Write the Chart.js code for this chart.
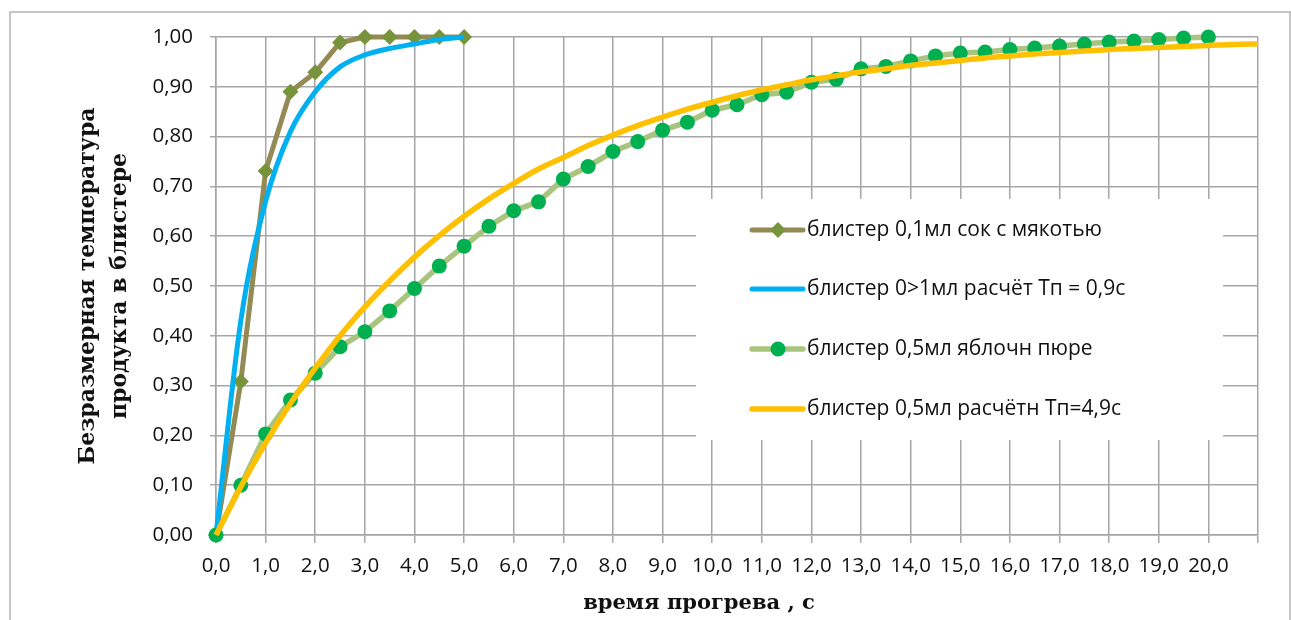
<!DOCTYPE html>
<html><head><meta charset="utf-8">
<script src="https://cdn.jsdelivr.net/npm/chart.js@4.4.0/dist/chart.umd.min.js"></script>
<style>html,body{margin:0;padding:0;background:#fff;}canvas{display:block;}</style>
</head><body>
<canvas id="c" width="1291" height="620"></canvas>
<script>
// ---- data ----
const seriesNames = [
  'блистер 0,1мл сок с мякотью',
  'блистер 0>1мл расчёт Тп = 0,9с',
  'блистер 0,5мл яблочн пюре',
  'блистер 0,5мл расчётн Тп=4,9с'
];
const timeJuice = [0, 0.5, 1, 1.5, 2, 2.5, 3, 3.5, 4, 4.5, 5];
const juiceMeasured = [0, 0.308, 0.731, 0.89, 0.929, 0.989, 1.0, 1.0, 1.0, 1.0, 1.0];
const juiceCalc = [0, 0.43, 0.67, 0.81, 0.89, 0.94, 0.964, 0.977, 0.986, 0.995, 1.0];
const timePuree = [0, 0.5, 1, 1.5, 2, 2.5, 3, 3.5, 4, 4.5, 5, 5.5, 6, 6.5, 7, 7.5, 8, 8.5, 9, 9.5, 10,
  10.5, 11, 11.5, 12, 12.5, 13, 13.5, 14, 14.5, 15, 15.5, 16, 16.5, 17, 17.5, 18, 18.5, 19, 19.5, 20];
const pureeMeasured = [0, 0.10, 0.203, 0.271, 0.325, 0.378, 0.408, 0.45, 0.495, 0.54, 0.58, 0.62, 0.651,
  0.669, 0.715, 0.74, 0.77, 0.79, 0.813, 0.829, 0.853, 0.864, 0.884, 0.889, 0.909, 0.915, 0.936, 0.941,
  0.952, 0.962, 0.968, 0.97, 0.975, 0.978, 0.982, 0.986, 0.99, 0.992, 0.995, 0.998, 1.0];
const timePureeCalc = [0, 0.5, 1, 1.5, 2, 2.5, 3, 3.5, 4, 4.5, 5, 5.5, 6, 6.5, 7, 7.5, 8, 8.5, 9, 9.5, 10,
  10.5, 11, 11.5, 12, 12.5, 13, 13.5, 14, 14.5, 15, 15.5, 16, 16.5, 17, 17.5, 18, 18.5, 19, 19.5, 20, 20.5, 21];
const pureeCalc = [0, 0.097, 0.185, 0.264, 0.335, 0.400, 0.458, 0.510, 0.558, 0.601, 0.640, 0.675, 0.706,
  0.735, 0.758, 0.782, 0.803, 0.822, 0.839, 0.855, 0.869, 0.882, 0.894, 0.904, 0.914, 0.922, 0.930, 0.936,
  0.943, 0.948, 0.953, 0.958, 0.962, 0.966, 0.969, 0.972, 0.975, 0.977, 0.979, 0.981, 0.983, 0.985, 0.986];
const yAxisTitle = ['Безразмерная температура', 'продукта в блистере'];
const xAxisTitle = 'время прогрева , с';

// ---- styles ----
const GRID = '#a6a6a6';
const styles = [
  {line: '#948A54', width: 5, point: 'rectRot', pointColor: '#77933C', radius: 8, order: 3, smooth: false},
  {line: '#00B0F0', width: 5, point: false, pointColor: null, radius: 0, order: 2, smooth: true},
  {line: '#A9C47F', width: 5.5, point: 'circle', pointColor: '#00B050', radius: 7.5, order: 1, smooth: false},
  {line: '#FFC000', width: 5.5, point: false, pointColor: null, radius: 0, order: 0, smooth: true}
];
const xy = (xs, ys) => xs.map((x, i) => ({x: x, y: ys[i]}));
const seriesData = [xy(timeJuice, juiceMeasured), xy(timeJuice, juiceCalc),
                    xy(timePuree, pureeMeasured), xy(timePureeCalc, pureeCalc)];

const comma = (v, d) => v.toFixed(d).replace('.', ',');

const framePlugin = {
  id: 'frame',
  beforeDraw(chart) {
    const ctx = chart.ctx;
    ctx.save();
    ctx.fillStyle = '#fff';
    ctx.fillRect(0, 0, chart.width, chart.height);
    ctx.strokeStyle = '#b4b4b4';
    ctx.lineWidth = 1.5;
    ctx.strokeRect(10, 12, 1280, 640);
    ctx.restore();
  }
};

function drawMarker(ctx, st, x, y) {
  if (!st.point) return;
  ctx.fillStyle = st.pointColor;
  ctx.beginPath();
  if (st.point === 'circle') {
    ctx.arc(x, y, st.radius, 0, Math.PI * 2);
  } else {
    ctx.moveTo(x, y - st.radius); ctx.lineTo(x + st.radius, y);
    ctx.lineTo(x, y + st.radius); ctx.lineTo(x - st.radius, y);
    ctx.closePath();
  }
  ctx.fill();
}

const boxLegendPlugin = {
  id: 'boxLegend',
  beforeDatasetsDraw(chart) {
    const ctx = chart.ctx;
    ctx.save();
    ctx.fillStyle = '#fff';
    ctx.fillRect(696, 199, 527, 241);
    const rows = [230, 289, 349, 409];
    ctx.font = '21px "Open Sans", sans-serif';
    ctx.textBaseline = 'middle';
    ctx.textAlign = 'left';
    seriesNames.forEach((name, i) => {
      const st = styles[i];
      const y = rows[i];
      ctx.strokeStyle = st.line;
      ctx.lineWidth = st.width;
      ctx.lineCap = 'round';
      ctx.beginPath(); ctx.moveTo(752, y); ctx.lineTo(803, y); ctx.stroke();
      drawMarker(ctx, st, 778, y);
      ctx.fillStyle = '#111';
      ctx.fillText(name, 807, y);
    });
    ctx.restore();
  },
  afterDraw(chart) {
    const ctx = chart.ctx;
    ctx.save();
    ctx.font = 'bold 21px "DejaVu Serif", serif';
    ctx.fillStyle = '#111';
    ctx.textAlign = 'center';
    ctx.textBaseline = 'middle';
    ctx.fillText(xAxisTitle, 699, 604);
    ctx.restore();
  }
};

function build() {
  new Chart(document.getElementById('c'), {
    type: 'line',
    data: {
      datasets: seriesData.map((d, i) => ({
        label: seriesNames[i],
        data: d,
        borderColor: styles[i].line,
        borderWidth: styles[i].width,
        backgroundColor: styles[i].pointColor || styles[i].line,
        pointStyle: styles[i].point || 'circle',
        pointRadius: styles[i].radius,
        pointBackgroundColor: styles[i].pointColor || styles[i].line,
        pointBorderWidth: 0,
        pointHoverRadius: styles[i].radius,
        cubicInterpolationMode: styles[i].smooth ? 'monotone' : 'default',
        tension: 0,
        fill: false,
        clip: false,
        order: styles[i].order
      }))
    },
    options: {
      responsive: false,
      animation: false,
      devicePixelRatio: 1,
      layout: {padding: {left: 0, right: 33, top: 37, bottom: 0}},
      plugins: {legend: {display: false}, tooltip: {enabled: false}},
      scales: {
        x: {
          type: 'linear', min: 0, max: 21,
          afterFit(s) { s.height = 85; },
          grid: {color: GRID, lineWidth: 1.5, tickLength: 8, drawTicks: true},
          border: {color: GRID, width: 1.5},
          ticks: {
            stepSize: 1, autoSkip: false, maxRotation: 0, padding: 11,
            color: '#111', font: {family: "'Open Sans', sans-serif", size: 20.5},
            callback: (v) => (v > 20.5 ? '' : comma(v, 1))
          }
        },
        y: {
          type: 'linear', min: 0, max: 1,
          afterFit(s) { s.width = 216; },
          grid: {color: GRID, lineWidth: 1.5, tickLength: 6, drawTicks: true},
          border: {color: GRID, width: 1.5},
          ticks: {
            stepSize: 0.1, padding: 17,
            color: '#111', font: {family: "'Open Sans', sans-serif", size: 20.5},
            callback: (v) => comma(v, 2)
          },
          title: {
            display: true, text: yAxisTitle, color: '#111',
            font: {family: "'DejaVu Serif', serif", weight: 'bold', size: 22, lineHeight: 1.45},
            padding: {top: 72, bottom: 0}
          }
        }
      }
    },
    plugins: [framePlugin, boxLegendPlugin]
  });
}
Promise.all([
  document.fonts.load('20px "Open Sans"'),
  document.fonts.load('bold 21px "DejaVu Serif"')
]).then(build, build);
</script>
</body></html>
